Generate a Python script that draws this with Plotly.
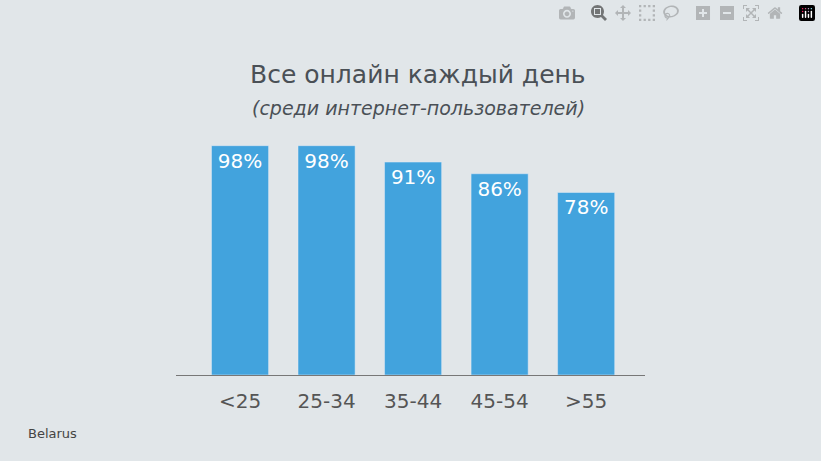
import plotly.graph_objects as go

categories = ["<25", "25-34", "35-44", "45-54", ">55"]
values = [98, 98, 91, 86, 78]
labels = ["98%", "98%", "91%", "86%", "78%"]

fig = go.Figure(go.Bar(
    x=list(range(len(categories))), y=values, text=labels,
    textposition="inside", insidetextanchor="end",
    textfont=dict(color="white", size=20, family="DejaVu Sans"),
    marker=dict(color="#42a3dd"), width=0.66, cliponaxis=False,
))
fig.update_layout(
    width=821, height=461, paper_bgcolor="#e1e6e9", plot_bgcolor="#e1e6e9",
    margin=dict(l=176, r=176, t=141, b=86), showlegend=False,
    uniformtext=dict(minsize=8, mode="show"),
    xaxis=dict(range=[-0.74, 4.68], tickvals=list(range(5)), ticktext=categories,
               showline=True, linecolor="#777", linewidth=1, showgrid=False,
               tickfont=dict(size=20, color="#555", family="DejaVu Sans"), ticks=""),
    yaxis=dict(range=[0, 100], visible=False),
)
H, W = 461, 821
pt, pb, pl, pr = 141, 86, 176, 176
ph, pw = H - pt - pb, W - pl - pr
def ann(text, px, py, size, xanchor="center", color="#4a5056"):
    fig.add_annotation(text=text, xref="paper", yref="paper", x=(px - pl) / pw,
                       y=(H - pb - py) / ph, showarrow=False, xanchor=xanchor, yanchor="middle",
                       font=dict(size=size, color=color, family="DejaVu Sans"))
ann("Все онлайн каждый день", 418, 75, 25)
ann("<i>(среди интернет-пользователей)</i>", 418, 108, 19)
ann("Belarus", 26, 433, 13, "left", "#444")
fig.update_xaxes(ticklabelstandoff=8)
fig.write_html("out.html")
with open("out.html", encoding="utf-8") as f:
    html = f.read()
html = html.replace("<head>", "<head><style>html,body{margin:0;padding:0;}</style>", 1)
with open("out.html", "w", encoding="utf-8") as f:
    f.write(html)
